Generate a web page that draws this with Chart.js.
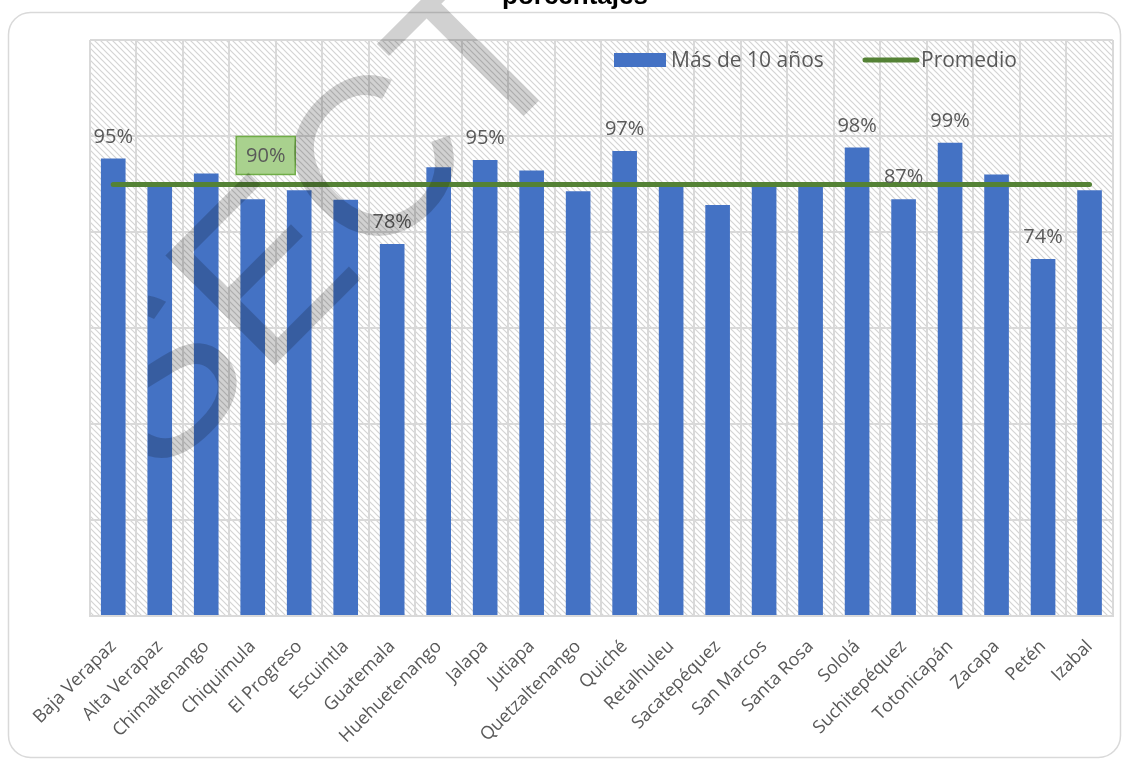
<!DOCTYPE html>
<html>
<head>
<meta charset="utf-8">
<script src="https://cdn.jsdelivr.net/npm/chart.js@4/dist/chart.umd.min.js"></script>
<style>
  html, body { margin: 0; padding: 0; background: #ffffff; }
  #wrap { position: relative; width: 1125px; height: 761px; }
</style>
</head>
<body>
<div id="wrap"><canvas id="c"></canvas></div>
<script>
const categorias = ["Baja Verapaz", "Alta Verapaz", "Chimaltenango", "Chiquimula", "El Progreso", "Escuintla", "Guatemala", "Huehuetenango", "Jalapa", "Jutiapa", "Quetzaltenango", "Quiché", "Retalhuleu", "Sacatepéquez", "San Marcos", "Santa Rosa", "Sololá", "Suchitepéquez", "Totonicapán", "Zacapa", "Petén", "Izabal"];
const masDe10Anios = [95.3, 89.8, 92.2, 86.8, 88.7, 86.7, 77.5, 93.5, 95.0, 92.8, 88.5, 96.9, 89.9, 85.6, 89.8, 89.8, 97.6, 86.8, 98.6, 92.0, 74.4, 88.7];
const promedio = [89.9, 89.9, 89.9, 89.9, 89.9, 89.9, 89.9, 89.9, 89.9, 89.9, 89.9, 89.9, 89.9, 89.9, 89.9, 89.9, 89.9, 89.9, 89.9, 89.9, 89.9, 89.9];
const indicesEtiquetados = [0, 6, 8, 11, 16, 17, 18, 20];
const indiceEtiquetaPromedio = 3;
const ejeY = { min: 0, max: 120, paso: 20 };
const nombresSeries = ["Más de 10 años", "Promedio"];
const tituloTexto = "porcentajes";
const marcaAgua = "SECT";

const AZUL = "#4472C4";
const VERDE = "#548235";
const GRIS_TXT = "#595959";
const GRID = "#d9d9d9";
const FUENTE = '"Open Sans", "DejaVu Sans", sans-serif';

function makePattern() {
  const p = document.createElement("canvas");
  p.width = 6; p.height = 6;
  const g = p.getContext("2d");
  g.fillStyle = "#ffffff"; g.fillRect(0, 0, 6, 6);
  g.strokeStyle = "#d4d4d4"; g.lineWidth = 1.2;
  g.beginPath();
  g.moveTo(-1, -1); g.lineTo(7, 7);
  g.moveTo(-1, 5); g.lineTo(1, 7);
  g.moveTo(5, -1); g.lineTo(7, 1);
  g.stroke();
  return p;
}

const fondoPlugin = {
  id: "fondo",
  beforeDraw(chart) {
    const ctx = chart.ctx;
    const a = chart.chartArea;
    ctx.save();
    ctx.fillStyle = "#ffffff";
    ctx.fillRect(0, 0, chart.width, chart.height);
    ctx.strokeStyle = "#d9d9d9";
    ctx.lineWidth = 1.5;
    ctx.beginPath();
    ctx.roundRect(8.5, 12.5, 1112, 745, 22);
    ctx.stroke();
    ctx.fillStyle = ctx.createPattern(makePattern(), "repeat");
    ctx.fillRect(a.left, a.top, a.right - a.left, a.bottom - a.top);
    ctx.fillStyle = "#000000";
    ctx.font = 'bold 26px "Liberation Sans", Arial, sans-serif';
    ctx.textAlign = "center";
    ctx.textBaseline = "alphabetic";
    ctx.fillText(tituloTexto, 575, 4);
    ctx.restore();
  }
};

const etiquetasPlugin = {
  id: "etiquetas",
  afterDatasetsDraw(chart) {
    const ctx = chart.ctx;
    const xs = chart.scales.x, ys = chart.scales.y;
    ctx.save();
    ctx.font = "20px " + FUENTE;
    ctx.fillStyle = GRIS_TXT;
    ctx.textAlign = "center";
    ctx.textBaseline = "alphabetic";
    indicesEtiquetados.forEach(i => {
      const v = masDe10Anios[i];
      const x = xs.getPixelForValue(i);
      const y = ys.getPixelForValue(v);
      ctx.fillText(Math.round(v) + "%", x, y - 16);
    });
    const pv = promedio[indiceEtiquetaPromedio];
    const px = xs.getPixelForValue(indiceEtiquetaPromedio) + 13;
    const py = ys.getPixelForValue(pv);
    const bw = 59, bh = 38;
    ctx.fillStyle = "#a9d18e";
    ctx.fillRect(px - bw / 2, py - 10 - bh, bw, bh);
    ctx.strokeStyle = "#70ad47";
    ctx.lineWidth = 1.5;
    ctx.strokeRect(px - bw / 2, py - 10 - bh, bw, bh);
    ctx.fillStyle = GRIS_TXT;
    ctx.textBaseline = "middle";
    ctx.fillText(Math.round(pv) + "%", px, py - 10 - bh / 2 + 1);

    ctx.font = "21px " + FUENTE;
    ctx.textAlign = "left";
    ctx.textBaseline = "alphabetic";
    ctx.fillStyle = AZUL;
    ctx.fillRect(614, 53, 52, 14);
    ctx.fillStyle = GRIS_TXT;
    ctx.fillText(nombresSeries[0], 671, 67);
    ctx.strokeStyle = VERDE;
    ctx.lineWidth = 5;
    ctx.lineCap = "round";
    ctx.beginPath();
    ctx.moveTo(865, 60); ctx.lineTo(917, 60);
    ctx.stroke();
    ctx.fillText(nombresSeries[1], 921, 67);
    ctx.restore();
  },
  afterDraw(chart) {
    const ctx = chart.ctx;
    ctx.save();
    ctx.beginPath();
    ctx.rect(148, 0, chart.width - 148, chart.height);
    ctx.clip();
    ctx.translate(324, 228);
    ctx.rotate(-Math.PI / 4);
    ctx.font = '225px "Liberation Sans", Arial, sans-serif';
    ctx.fillStyle = "rgba(0,0,0,0.18)";
    ctx.textAlign = "center";
    ctx.textBaseline = "middle";
    ctx.fillText(marcaAgua, 0, 0);
    ctx.restore();
  }
};

new Chart(document.getElementById("c"), {
  type: "bar",
  data: {
    labels: categorias,
    datasets: [
      {
        type: "line",
        label: nombresSeries[1],
        data: promedio,
        borderColor: VERDE,
        backgroundColor: VERDE,
        borderWidth: 5,
        borderCapStyle: "round",
        pointRadius: 0,
        order: 0
      },
      {
        label: nombresSeries[0],
        data: masDe10Anios,
        backgroundColor: AZUL,
        categoryPercentage: 1,
        barPercentage: 0.53,
        order: 1
      }
    ]
  },
  options: {
    responsive: true,
    maintainAspectRatio: false,
    animation: false,
    layout: { padding: { top: 40, left: 90, right: 8, bottom: 0 } },
    plugins: {
      legend: { display: false },
      tooltip: { enabled: false },
      title: { display: false }
    },
    scales: {
      x: {
        grid: { color: GRID, lineWidth: 2, offset: true, drawTicks: false },
        border: { color: GRID, width: 2 },
        ticks: {
          color: GRIS_TXT,
          font: { size: 18, family: FUENTE },
          maxRotation: 45, minRotation: 45,
          padding: 20,
          autoSkip: false
        },
        afterFit(scale) { scale.height = 145; }
      },
      y: {
        min: ejeY.min, max: ejeY.max,
        ticks: { display: false, stepSize: ejeY.paso },
        grid: { color: GRID, lineWidth: 2, drawTicks: false },
        border: { display: false },
        afterFit(scale) { scale.width = 0; }
      }
    }
  },
  plugins: [fondoPlugin, etiquetasPlugin]
});
</script>
</body>
</html>
